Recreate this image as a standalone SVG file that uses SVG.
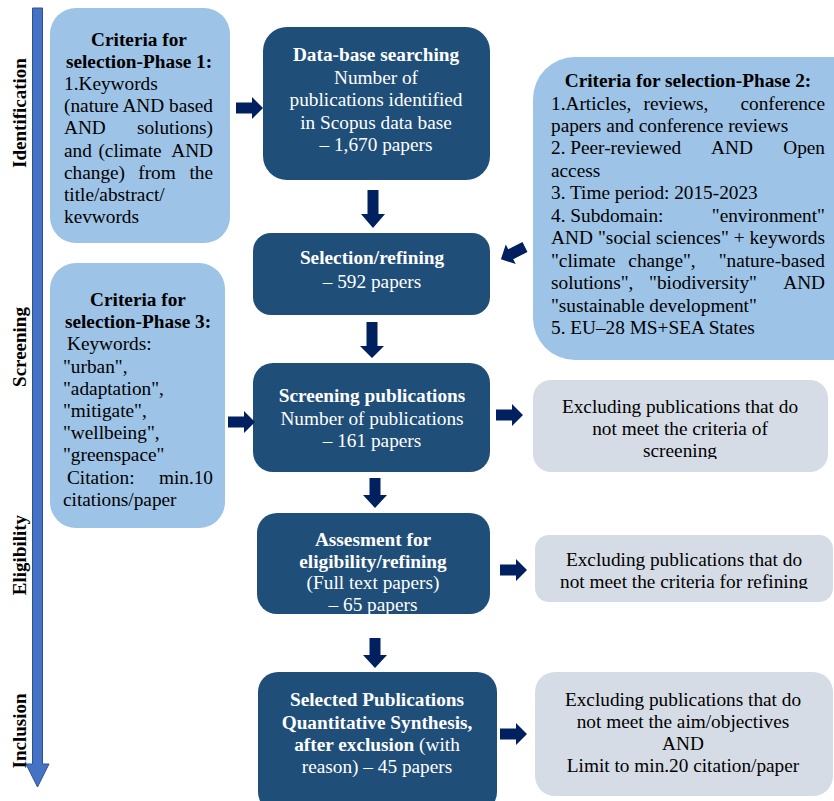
<svg xmlns="http://www.w3.org/2000/svg" width="834" height="801" viewBox="0 0 834 801">
<style>
.t{font-family:"Liberation Serif","Times New Roman",serif;font-size:19.3px;fill:#000}
.w{fill:#fff}
.b{font-weight:bold}
.c{text-anchor:middle}
.e{text-anchor:end}
.lb{fill:#9DC3E6}
.db{fill:#1F4E79}
.gr{fill:#D6DCE5}
.ar{fill:#002060}
.ax{font-family:"Liberation Serif","Times New Roman",serif;font-size:19px;font-weight:bold;fill:#000;text-anchor:middle}
</style>
<defs>
<path id="ra" d="M0,-5.5 H16 V-11 L27,0 L16,11 V5.5 H0 Z"/>
<clipPath id="c1"><rect x="533" y="378" width="300" height="81"/></clipPath>
<clipPath id="c2"><rect x="535" y="533" width="300" height="56"/></clipPath>
<clipPath id="c3"><rect x="257" y="513" width="233" height="101"/></clipPath>
</defs>
<rect width="834" height="801" fill="#fff"/>

<g id="axis">
<path d="M32.5,8 H42.5 V764 H49 L37.5,787 L26,764 H32.5 Z" fill="#4472C4" stroke="#2F528F" stroke-width="1"/>
<text class="ax" transform="translate(26,113) rotate(-90)">Identification</text>
<text class="ax" transform="translate(26,347) rotate(-90)">Screening</text>
<text class="ax" transform="translate(26,555) rotate(-90)">Eligibility</text>
<text class="ax" transform="translate(26,731) rotate(-90)">Inclusion</text>
</g>

<g id="phase1">
<rect class="lb" x="50" y="8" width="180" height="235" rx="26"/>
<text class="t b c" x="139" y="46">Criteria for</text>
<text class="t b c" x="139" y="68">selection-Phase 1:</text>
<text class="t" x="64" y="90">1.Keywords</text>
<text class="t" x="64" y="112" textLength="149" lengthAdjust="spacing">(nature AND based</text>
<text class="t" x="64" y="134">AND</text><text class="t e" x="213" y="134">solutions)</text>
<text class="t" x="64" y="156.5">and</text><text class="t c" x="130" y="156.5">(climate</text><text class="t e" x="213" y="156.5">AND</text>
<text class="t" x="64" y="178.5">change)</text><text class="t c" x="157" y="178.5">from</text><text class="t e" x="213" y="178.5">the</text>
<text class="t" x="64" y="200.5">title/abstract/</text>
<text class="t" x="64" y="222.5">kevwords</text>
</g>

<g id="database">
<rect class="db" x="263" y="27" width="227" height="153" rx="24"/>
<text class="t w b c" x="376" y="61">Data-base searching</text>
<text class="t w c" x="376" y="83.5">Number of</text>
<text class="t w c" x="376" y="106">publications identified</text>
<text class="t w c" x="376" y="128.5">in Scopus data base</text>
<text class="t w c" x="376" y="151">– 1,670 papers</text>
</g>

<g id="phase2">
<rect class="lb" x="533" y="57" width="340" height="303" rx="42"/>
<text class="t b c" x="688" y="87">Criteria for selection-Phase 2:</text>
<text class="t" x="551" y="109.5">1.Articles,</text><text class="t c" x="676" y="109.5">reviews,</text><text class="t e" x="825" y="109.5">conference</text>
<text class="t" x="551" y="132">papers and conference reviews</text>
<text class="t" x="551" y="154.4">2. Peer-reviewed</text><text class="t c" x="732" y="154.4">AND</text><text class="t e" x="825" y="154.4">Open</text>
<text class="t" x="551" y="176.8">access</text>
<text class="t" x="551" y="199.3">3. Time period: 2015-2023</text>
<text class="t" x="551" y="221.7">4. Subdomain:</text><text class="t e" x="825" y="221.7">"environment"</text>
<text class="t" x="551" y="244.2" textLength="274" lengthAdjust="spacing">AND "social sciences" + keywords</text>
<text class="t" x="551" y="266.6">"climate</text><text class="t c" x="662" y="266.6">change",</text><text class="t e" x="825" y="266.6">"nature-based</text>
<text class="t" x="551" y="289.1">solutions",</text><text class="t c" x="703" y="289.1">"biodiversity"</text><text class="t e" x="825" y="289.1">AND</text>
<text class="t" x="551" y="311.5">"sustainable development"</text>
<text class="t" x="551" y="334">5. EU–28 MS+SEA States</text>
</g>

<g id="selection">
<rect class="db" x="253" y="233" width="237" height="82" rx="18"/>
<text class="t w b c" x="372" y="264">Selection/refining</text>
<text class="t w c" x="372" y="287.5">– 592 papers</text>
</g>

<g id="phase3">
<rect class="lb" x="50" y="263" width="175" height="265" rx="26"/>
<text class="t b c" x="138" y="306">Criteria for</text>
<text class="t b c" x="138" y="328.2">selection-Phase 3:</text>
<text class="t" x="67" y="350.4">Keywords:</text>
<text class="t" x="63" y="372.6">"urban",</text>
<text class="t" x="63" y="394.8">"adaptation",</text>
<text class="t" x="63" y="417">"mitigate",</text>
<text class="t" x="63" y="439.2">"wellbeing",</text>
<text class="t" x="63" y="461.4">"greenspace"</text>
<text class="t" x="67" y="483.6">Citation:</text><text class="t e" x="213" y="483.6">min.10</text>
<text class="t" x="63" y="505.8">citations/paper</text>
</g>

<g id="screening">
<rect class="db" x="253" y="363" width="237" height="109" rx="20"/>
<text class="t w b c" x="372" y="402">Screening publications</text>
<text class="t w c" x="372" y="424.5">Number of publications</text>
<text class="t w c" x="372" y="447">– 161 papers</text>
</g>

<g id="exclude1">
<rect class="gr" x="533" y="380" width="295" height="92" rx="18"/>
<g clip-path="url(#c1)">
<text class="t c" x="680" y="412.5">Excluding publications that do</text>
<text class="t c" x="680" y="435">not meet the criteria of</text>
<text class="t c" x="680" y="457">screening</text>
</g>
</g>

<g id="assessment">
<rect class="db" x="257" y="513" width="233" height="101" rx="20"/>
<g clip-path="url(#c3)">
<text class="t w b c" x="373" y="546">Assesment for</text>
<text class="t w b c" x="373" y="567.5">eligibility/refining</text>
<text class="t w c" x="373" y="589">(Full text papers)</text>
<text class="t w c" x="373" y="610.5">– 65 papers</text>
</g>
</g>

<g id="exclude2">
<rect class="gr" x="535" y="535" width="298" height="67" rx="14"/>
<g clip-path="url(#c2)">
<text class="t c" x="684" y="566">Excluding publications that do</text>
<text class="t c" x="684" y="587.5">not meet the criteria for refining</text>
</g>
</g>

<g id="selected">
<rect class="db" x="258" y="672" width="239" height="140" rx="20"/>
<text class="t w b c" x="377" y="706">Selected Publications</text>
<text class="t w b c" x="377" y="728.5">Quantitative Synthesis,</text>
<text class="t w c" x="377" y="751"><tspan class="b">after exclusion</tspan> (with</text>
<text class="t w c" x="377" y="773">reason) – 45 papers</text>
</g>

<g id="exclude3">
<rect class="gr" x="535" y="672" width="298" height="124" rx="20"/>
<text class="t c" x="683" y="706">Excluding publications that do</text>
<text class="t c" x="683" y="728">not meet the aim/objectives</text>
<text class="t c" x="683" y="749.5">AND</text>
<text class="t c" x="683" y="772">Limit to min.20 citation/paper</text>
</g>

<g id="connectors">
<use href="#ra" class="ar" transform="translate(236,108)"/>
<use href="#ra" class="ar" transform="translate(228,422)"/>
<use href="#ra" class="ar" transform="translate(496,415)"/>
<use href="#ra" class="ar" transform="translate(500,570)"/>
<use href="#ra" class="ar" transform="translate(500,734)"/>
<use href="#ra" class="ar" transform="translate(525,247) rotate(153)"/>
<path class="ar" d="M367.5,190 H378.5 V214 H385 L373,228 L361,214 H367.5 Z"/>
<path class="ar" d="M366.5,322 H377.5 V346 H384 L372,358 L360,346 H366.5 Z"/>
<path class="ar" d="M369.5,478 H380.5 V495 H387 L375,508 L363,495 H369.5 Z"/>
<path class="ar" d="M369.5,638 H380.5 V655 H387 L375,668 L363,655 H369.5 Z"/>
</g>
</svg>
